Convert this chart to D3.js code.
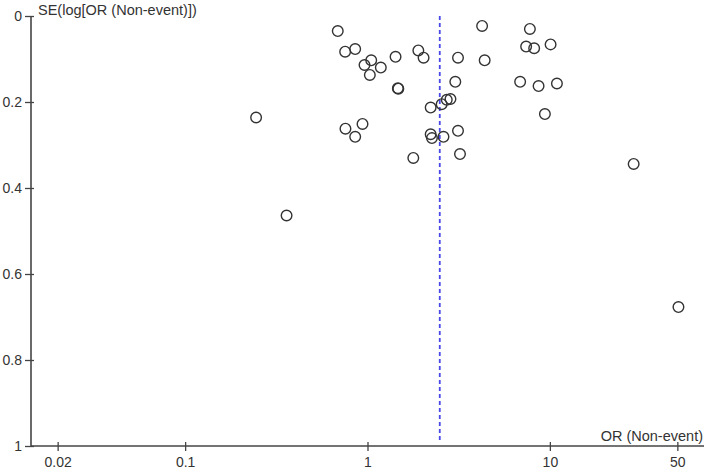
<!DOCTYPE html>
<html>
<head>
<meta charset="utf-8">
<script src="https://cdn.jsdelivr.net/npm/d3@7"></script>
<style>
  body { margin: 0; background: #fff; }
  text { font-family: "Liberation Sans", Arial, sans-serif; fill: #333; }
</style>
</head>
<body>
<div id="chart"></div>
<script>
var width = 708,
    height = 471;

// study odds ratios and their standard errors
var orValues = [0.687, 0.754, 0.856, 0.963, 1.048, 1.03, 1.183, 1.425, 1.90, 2.03,
                1.467, 1.476, 3.135, 3.03, 0.245, 0.757, 0.939, 0.856, 2.22, 2.55,
                2.72, 2.85, 2.22, 2.256, 2.61, 3.135, 1.783, 3.215, 4.25, 7.77,
                7.41, 8.20, 10.09, 4.39, 6.87, 8.67, 10.93, 9.39, 28.8, 50.7, 0.360];
var seValues = [0.035, 0.083, 0.077, 0.114, 0.103, 0.137, 0.120, 0.095, 0.080, 0.097,
                0.168, 0.169, 0.097, 0.153, 0.236, 0.262, 0.251, 0.281, 0.213, 0.205,
                0.195, 0.193, 0.275, 0.284, 0.281, 0.267, 0.330, 0.321, 0.023, 0.030,
                0.071, 0.075, 0.066, 0.103, 0.153, 0.163, 0.157, 0.228, 0.344, 0.677, 0.464];
var pooledOR = 2.49;

var xTicks = [0.02, 0.1, 1, 10, 50];
var xTickLabels = ["0.02", "0.1", "1", "10", "50"];
var yTicks = [0, 0.2, 0.4, 0.6, 0.8, 1];
var yTickLabels = ["0", "0.2", "0.4", "0.6", "0.8", "1"];

var svg = d3.select("#chart").append("svg")
    .attr("width", width)
    .attr("height", height);

var x = d3.scaleLog().domain([1 / 70, 70]).range([31, 704]);
var y = d3.scaleLinear().domain([0, 1]).range([16, 446]);

var points = orValues.map(function(d, i) { return {or: d, se: seValues[i]}; });

// axes
var yAxis = svg.append("g")
    .attr("transform", "translate(" + x.range()[0] + ",0)")
    .call(d3.axisLeft(y).tickValues(yTicks).tickSizeOuter(0)
      .tickFormat(function(d, i) { return yTickLabels[i]; }));
yAxis.select(".domain").remove();
yAxis.selectAll(".tick line").attr("x1", -6).attr("x2", 3)
    .attr("stroke", "#444").attr("stroke-width", 1.3);
yAxis.selectAll(".tick text").attr("x", -9)
    .style("font-size", "14px").style("font-family", "Liberation Sans, Arial, sans-serif").attr("fill", "#333");

var xAxis = svg.append("g")
    .attr("transform", "translate(0," + y.range()[1] + ")")
    .call(d3.axisBottom(x).tickValues(xTicks).tickSizeOuter(0)
      .tickFormat(function(d, i) { return xTickLabels[i]; }));
xAxis.select(".domain").remove();
xAxis.selectAll(".tick line").attr("y1", -4).attr("y2", 5)
    .attr("stroke", "#444").attr("stroke-width", 1.3);
xAxis.selectAll(".tick text").attr("y", 11)
    .style("font-size", "14px").style("font-family", "Liberation Sans, Arial, sans-serif").attr("fill", "#333");

svg.append("line")
    .attr("x1", x.range()[0]).attr("x2", x.range()[0])
    .attr("y1", y.range()[0]).attr("y2", y.range()[1])
    .attr("stroke", "#444").attr("stroke-width", 1.6);
svg.append("line")
    .attr("x1", x.range()[0]).attr("x2", x.range()[1])
    .attr("y1", y.range()[1]).attr("y2", y.range()[1])
    .attr("stroke", "#444").attr("stroke-width", 1.6);

// pooled estimate
svg.append("line")
    .attr("x1", x(pooledOR)).attr("x2", x(pooledOR))
    .attr("y1", y(0)).attr("y2", y(0.99))
    .attr("stroke", "#4848e8")
    .attr("stroke-width", 1.8)
    .attr("stroke-dasharray", "4,3");

// studies
svg.append("g")
  .selectAll("circle")
  .data(points)
  .enter().append("circle")
    .attr("cx", function(d) { return x(d.or); })
    .attr("cy", function(d) { return y(d.se); })
    .attr("r", 5.3)
    .attr("fill", "none")
    .attr("stroke", "#333")
    .attr("stroke-width", 1.4);

// titles
svg.append("text")
    .attr("x", 38).attr("y", 15)
    .style("font-size", "14.5px")
    .text("SE(log[OR (Non-event)])");

svg.append("text")
    .attr("x", 703).attr("y", 441)
    .attr("text-anchor", "end")
    .style("font-size", "14.5px")
    .text("OR (Non-event)");
</script>
</body>
</html>
